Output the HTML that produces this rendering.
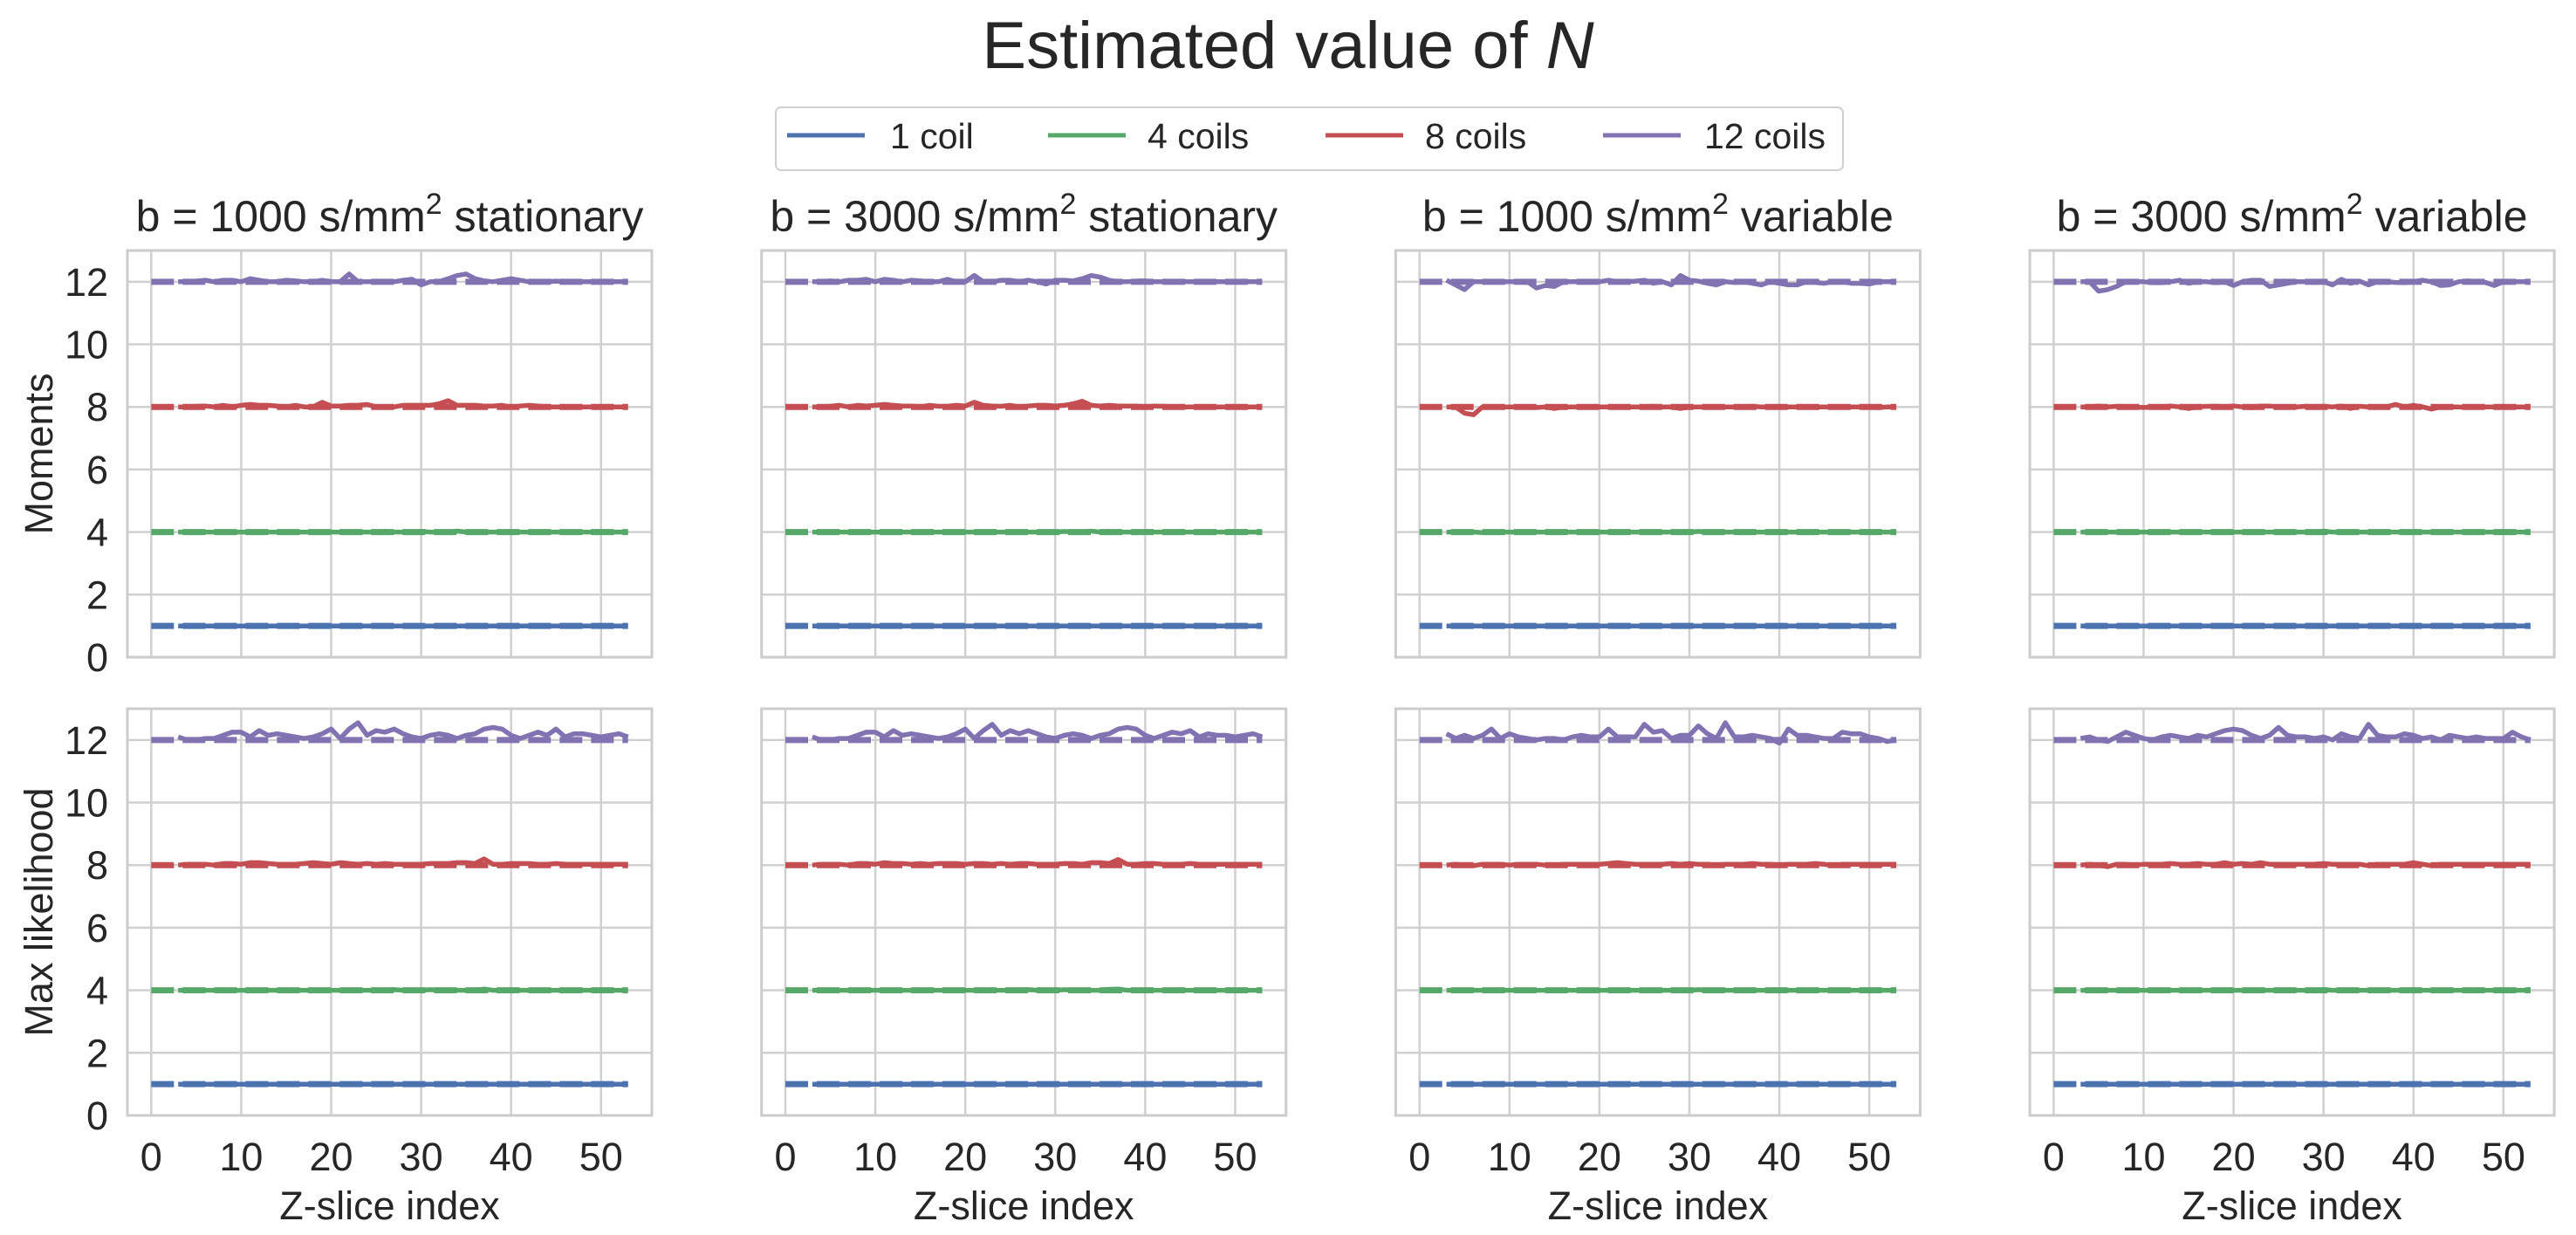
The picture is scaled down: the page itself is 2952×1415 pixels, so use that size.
<!DOCTYPE html>
<html><head><meta charset="utf-8"><style>
html,body{margin:0;padding:0;background:#fff;}
svg{display:block;font-family:"Liberation Sans",Arial,sans-serif;}
</style></head><body>
<svg id="fig" width="2952" height="1415" viewBox="0 0 2952 1415" xmlns="http://www.w3.org/2000/svg">
<text x="1476" y="78" font-size="76" text-anchor="middle" fill="#262626">Estimated value of <tspan font-style="italic">N</tspan></text>
<g>
<rect x="889" y="123" width="1223" height="72" rx="6" fill="#fff" stroke="#d0d0d0" stroke-width="2"/>
<g><line x1="902" y1="155" x2="991" y2="155" stroke="#4c72b0" stroke-width="5"/><text x="1020" y="170" font-size="41" fill="#262626">1 coil</text></g>
<g><line x1="1201" y1="155" x2="1290" y2="155" stroke="#55a868" stroke-width="5"/><text x="1315" y="170" font-size="41" fill="#262626">4 coils</text></g>
<g><line x1="1519" y1="155" x2="1608" y2="155" stroke="#c44e52" stroke-width="5"/><text x="1633" y="170" font-size="41" fill="#262626">8 coils</text></g>
<g><line x1="1837" y1="155" x2="1926" y2="155" stroke="#8172b2" stroke-width="5"/><text x="1953" y="170" font-size="41" fill="#262626">12 coils</text></g>
</g>
<g id="panels"></g>
</svg>
<script>
const xTicks = [0,10,20,30,40,50];
const yTicks = [0,2,4,6,8,10,12];
const coilCounts = [1,4,8,12];
const seriesColors = ["#4c72b0","#55a868","#c44e52","#8172b2"];
const panelTitles = ["1000|stationary","3000|stationary","1000|variable","3000|variable"];
const rowLabels = ["Moments","Max likelihood"];
const xStart = 3;

// Row 1 (Moments)
const m1_blue = [1,1,1,1,1,1,1,1,1,1,1,1,1,1,1,1,1,1,1,1,1,1,1,1.01,1,1,1,1,1,1,1,1,1,1,1,1,1,1,1,1,1,1,1,1,1,1,1,1,1,1,1];
const m1_green = [4,4,4,4,4,4,4,4,4,4,4,4,4,4,4,4,4,4,4,4.02,4,4,4,4.02,4,4,4,4.02,4,4,4,4.03,4,4,4,4,4,4,4,4,4,4,4,4,4,4,4,4,4,4,4];
const m1_red = [8,8,8.02,8.03,8,8.05,8,8.05,8.08,8.05,8.05,8.03,8,8.05,8,8,8.15,8.03,8.03,8.05,8.05,8.08,8,8,8,8.05,8.05,8.05,8.05,8.1,8.2,8.05,8.05,8.05,8.03,8.03,8.05,8,8.03,8.05,8.03,8,8,8,8,8,8,8,8,8,8];
const m1_purple = [12,12,12.02,12.05,12,12.05,12.05,12,12.1,12.05,12,12,12.05,12.03,12,12,12.05,12,12,12.25,12,12,12,12,12,12.05,12.08,11.9,12,12,12.1,12.2,12.25,12.1,12.03,12,12.05,12.1,12.05,12,12,12,12.02,12,12,12,12,12,12,12,12];
const m2_blue = [1,1,1,1,1,1,1,1,1,1,1,1,1,1,1,1,1,1,1,1,1,1,1,1,1,1,1,1,1,1,1,1,1,1,1,1,1,1,1,1,1,1,1,1,1,1,1,1,1,1,1];
const m2_green = [4,4,4,4,4,4,4,4,4,4,4,4,4,4,4,4,4,4,4,4,4,4,4,4.02,4,4,4,4,4.02,4,4,4.03,4,4.02,4,4,4,4,4,4,4,4,4,4,4,4,4,4,4,4,4];
const m2_red = [8,8,8.02,8.05,8,8.05,8.03,8.05,8.08,8.05,8.03,8.03,8,8.05,8.02,8.02,8.05,8.03,8.15,8.05,8.03,8.02,8.05,8,8.03,8.05,8.05,8.03,8.05,8.1,8.18,8.05,8.03,8.05,8.03,8.03,8.03,8,8.03,8.02,8,8,8,8,8,8,8,8,8,8,8];
const m2_purple = [12,12,12.03,12,12.05,12.05,12.08,12,12.08,12.05,12,12.05,12.03,12,12,12.08,12,12,12.2,12,12,12.05,12.05,12,12.05,12,11.93,12.05,12.05,12.03,12.1,12.2,12.15,12.05,12,12,12.02,12.03,12,12,12,12,12,12,12,12,12,12,12,12,12];
const m3_blue = [1,1,1,1,1,1,1,1,1,1,1,1,1,1,1,1,1,1,1,1,1,1,1,1,1,1,1,1,1,1,1,1,1,1,1,1,1,1,1,1,1,1,1,1,1,1,1,1,1,1,1];
const m3_green = [4,4,4,4,3.98,4,4,4,4,4,4,4,4,4,4,4,4,4,4,4,4,4,4,4,4,4,4,4,4.02,4,4,4,4,4,4,4,4,4,4,4,4,4,4,4,4,4,4,4,4,4,4];
const m3_red = [8,8,7.8,7.75,8,8,8,8,8,8,7.98,8,7.95,8,8,8,8,8,8,8,8,8,8,8.02,8,8,7.95,8,8,8,8,8,8,8,8.02,8,8,8,8,8,7.98,8,8,8,8,8,8,8.02,7.98,8,8];
const m3_purple = [12.05,11.9,11.75,12,12,12,12,12,12,12,11.8,11.88,11.85,12,12,12,12,12,12.05,12,12,12.02,12.05,11.95,12,11.9,12.2,12.05,12.02,11.95,11.9,12,11.98,12,11.95,11.9,12,11.95,11.9,11.9,12,11.98,11.95,12,12,11.95,11.95,11.93,12,12,12];
const m4_blue = [1,1,1,1,1,1,1,1,1,1,1,1,1,1,1,1,1,1,1,1,1,1,1,1,1,1,1,1,1,1,1,1,1,1,1,1,1,1,1,1,1,1,1,1,1,1,1,1,1,1,1];
const m4_green = [4,4,4,4,4,4,4,4,4,4,4,4,4,4,4,4,4,4,4,4,4,4,4,4,4,4,4,4.03,4,4,4,4,4,4,4,4,4,4,4,4,4,4,4,4,4,4,4,4,4,4,4];
const m4_red = [8,8,8.03,8,8.02,8,8,7.98,8,8,8.03,8,7.95,8,8.02,8.02,8,8.03,8,7.97,8.03,8.03,8,7.98,8,8.02,8,8.02,8,8.03,7.95,8.02,8,8,8,8.08,8,8.05,8,7.93,8,8,8,7.98,8,8,8,8,8,8,8];
const m4_purple = [12,12,11.7,11.75,11.85,12,12,12,11.97,11.97,12,12.05,11.95,12,12,11.97,12,11.88,12,12.05,12.05,11.85,11.9,11.95,12,12,11.98,12,11.9,12.08,11.95,12.02,11.9,12,12,11.98,11.97,12,12.05,12,11.88,11.9,12,12.03,12,11.98,11.88,12,12,12,12];
// Row 2 (Max likelihood)
const l1_blue = [1,1,1,1,1,1,1,1,1,1,1,1,1,1,1,1,1,1,1,1,1,1,1,1,1,1,1,1,1,1,1,1,1,1,1,1,1,1,1,1,1,1,1,1,1,1,1,1,1,1,1];
const l1_green = [4,4,4,4,4,4,4,4,4,4,4,4,4,4,4,4,4,4,4,4,4,4,4,4,4.02,4,4,4,4.02,4,4,4,4,4,4.04,4,4,4,4,4,4,4,4,4,4,4,4,4,4,4,4];
const l1_red = [8,8.03,8.03,8.03,8,8.05,8.05,8.03,8.08,8.08,8.05,8.03,8.03,8.03,8.05,8.08,8.05,8.03,8.08,8.05,8.03,8.05,8.03,8.05,8.03,8.03,8.03,8.03,8.05,8.05,8.05,8.08,8.08,8.05,8.2,8.03,8.03,8.05,8.05,8.05,8.03,8.03,8.05,8.03,8.03,8.03,8.03,8.03,8.03,8.03,8.03];
const l1_purple = [12.1,12,12,12.05,12.05,12.15,12.25,12.25,12.1,12.3,12.15,12.2,12.15,12.1,12.05,12.1,12.2,12.35,12.05,12.35,12.55,12.15,12.3,12.25,12.35,12.2,12.1,12.05,12.15,12.2,12.15,12.05,12.15,12.2,12.35,12.4,12.35,12.15,12.05,12.15,12.25,12.15,12.35,12.1,12.2,12.2,12.15,12.1,12.15,12.2,12.1];
const l2_blue = [1,1,1,1,1,1,1,1,1,1,1,1,1,1,1,1,1,1,1,1,1,1,1,1,1,1,1,1,1,1,1,1,1,1,1,1,1,1,1,1,1,1,1,1,1,1,1,1,1,1,1];
const l2_green = [4,4,4,4,4,4,4,4,4,4,4,4,4,4,4,4,4,4,4,4,4,4,4,4,4.02,4,4,4,4.02,4,4,4,4,4.03,4.04,4,4,4,4,4,4,4,4,4,4,4,4,4,4,4,4];
const l2_red = [8,8.03,8.03,8.03,8,8.05,8.05,8.03,8.08,8.05,8.05,8.03,8.05,8.03,8.05,8.05,8.05,8.03,8.05,8.05,8.03,8.05,8.03,8.05,8.05,8.03,8.03,8.03,8.05,8.05,8.03,8.08,8.08,8.05,8.18,8.03,8.03,8.05,8.05,8.03,8.03,8.03,8.05,8.03,8.03,8.03,8.03,8.03,8.03,8.03,8.03];
const l2_purple = [12.1,12,12,12.05,12.05,12.15,12.25,12.25,12.1,12.3,12.15,12.2,12.15,12.1,12.05,12.1,12.2,12.35,12.05,12.3,12.5,12.15,12.3,12.2,12.3,12.2,12.1,12.05,12.15,12.2,12.15,12.05,12.15,12.2,12.35,12.4,12.35,12.15,12.05,12.15,12.25,12.2,12.3,12.1,12.2,12.15,12.15,12.1,12.15,12.2,12.1];
const l3_blue = [1,1,1,1,1,1,1,1,1,1,1,1,1,1,1,1,1,1,1,1,1,1,1,1,1,1,1,1,1,1,1,1,1,1,1,1,1,1,1,1,1,1,1,1,1,1,1,1,1,1,1];
const l3_green = [4,4,4,4,4,4,4,4,4,4,4,4,4,4,4,4,4,4,4,4,4,4,4,4,4,4,4,4,4.02,4,4,4,4,4,4,4,4,4,4,4,4,4,4,4,4,4,4,4,4,4,4];
const l3_red = [8,8.03,8,7.98,8.03,8.03,8.03,8,8.03,8.03,8.03,8,8,8.03,8.03,8.03,8.03,8.03,8.05,8.08,8.05,8.03,8.03,8.03,8.03,8.05,8.03,8.05,8.03,8.03,8,8.03,8.03,8.03,8.05,8.03,8.03,8,8.03,8.03,8.03,8.05,8.03,7.98,8.03,8.03,8.03,8.03,8.03,8.03,8.03];
const l3_purple = [12.2,12.05,12.15,12.05,12.15,12.35,12.05,12.2,12.1,12.05,12,12.05,12.05,12,12.1,12.15,12.1,12.1,12.35,12.1,12.1,12.1,12.5,12.25,12.3,12.05,12.15,12.15,12.45,12.2,12.05,12.55,12.1,12.1,12.15,12.1,12.05,11.9,12.35,12.15,12.15,12.1,12.05,12.05,12.25,12.2,12.2,12.1,12.05,11.95,12];
const l4_blue = [1,1,1,1,1,1,1,1,1,1,1,1,1,1,1,1,1,1,1,1,1,1,1,1,1,1,1,1,1,1,1,1,1,1,1,1,1,1,1,1,1,1,1,1,1,1,1,1,1,1,1];
const l4_green = [4,4,4,4,4,4,4,4,4,4,4,4,4,4,4,4,4,4,4,4,4,4,4,4,4,4,4,4.02,4,4,4,4,4,4,4,4,4,4,4,4,4,4,4,4,4,4,4,4,4,4,4];
const l4_red = [8,8.03,8,7.95,8.03,8.03,8,8.03,8.03,8.03,8.05,8.03,8.03,8.05,8.03,8.03,8.08,8.03,8.05,8.03,8.08,8.03,8.03,8.03,8.03,8.03,8.03,8.05,8.03,8.03,8.03,8.03,7.98,8.03,8.03,8.03,8.03,8.08,8.03,7.98,8.03,8.03,8.03,8.03,8.03,8.03,8.03,8.03,8.03,8.03,8.03];
const l4_purple = [12.05,12.1,12,11.95,12.1,12.25,12.15,12.05,12,12.1,12.15,12.1,12.05,12.15,12.1,12.2,12.3,12.35,12.3,12.15,12.05,12.15,12.4,12.15,12.1,12.1,12.05,12.1,12,12.2,12.1,12.05,12.5,12.15,12.1,12.1,12.2,12.15,12.05,12.1,12,12.15,12.1,12.05,12.1,12.05,12.05,12.05,12.25,12.1,12];

const panelData = [
  [[m1_blue,m1_green,m1_red,m1_purple],[m2_blue,m2_green,m2_red,m2_purple],[m3_blue,m3_green,m3_red,m3_purple],[m4_blue,m4_green,m4_red,m4_purple]],
  [[l1_blue,l1_green,l1_red,l1_purple],[l2_blue,l2_green,l2_red,l2_purple],[l3_blue,l3_green,l3_red,l3_purple],[l4_blue,l4_green,l4_red,l4_purple]]
];

const NS = "http://www.w3.org/2000/svg";
const root = document.getElementById("panels");
const PW = 601, PH = 466, XMIN = -2.65, XMAX = 55.65, YMAX = 13;
const panelLeft = c => 146 + c * 726.7;
const panelTop = r => r === 0 ? 287 : 812;
function mk(tag, attrs, parent) {
  const e = document.createElementNS(NS, tag);
  for (const k in attrs) e.setAttribute(k, attrs[k]);
  parent.appendChild(e);
  return e;
}
for (let r = 0; r < 2; r++) {
  for (let c = 0; c < 4; c++) {
    const L = panelLeft(c), T = panelTop(r);
    const xs = v => L + (v - XMIN) / (XMAX - XMIN) * PW;
    const ys = v => T + PH - v / YMAX * PH;
    const g = mk("g", {}, root);
    
    
    mk("rect", {x: L, y: T, width: PW, height: PH, fill: "#fff"}, g);
    xTicks.forEach(t => {
      const gl = mk("line", {x1: xs(t), x2: xs(t), y1: T, y2: T + PH, stroke: "#d0d0d0", "stroke-width": 2.5}, g);
      
      
      if (r === 1) {
        const tl = mk("text", {x: xs(t), y: T + PH + 63, "font-size": 45, "text-anchor": "middle", fill: "#262626"}, g);
        tl.textContent = t;
        
        
      }
    });
    yTicks.forEach(t => {
      const gl = mk("line", {x1: L, x2: L + PW, y1: ys(t), y2: ys(t), stroke: "#d0d0d0", "stroke-width": 2.5}, g);
      
      
      if (c === 0) {
        const tl = mk("text", {x: L - 22, y: ys(t) + 16, "font-size": 45, "text-anchor": "end", fill: "#262626"}, g);
        tl.textContent = t;
        
        
      }
    });
    const fr = mk("rect", {x: L, y: T, width: PW, height: PH, fill: "none", stroke: "#cccccc", "stroke-width": 3}, g);
    
    
    panelData[r][c].forEach((vals, si) => {
      const ref = mk("line", {x1: xs(0), x2: xs(53), y1: ys(coilCounts[si]), y2: ys(coilCounts[si]), stroke: seriesColors[si], "stroke-width": 7, "stroke-dasharray": "26 10"}, g);
      
      
      const pts = vals.map((v, i) => xs(xStart + i).toFixed(1) + "," + ys(v).toFixed(1)).join(" ");
      const pl = mk("polyline", {points: pts, fill: "none", stroke: seriesColors[si], "stroke-width": 5.5, "stroke-linejoin": "round"}, g);
      
      
    });
    if (r === 0) {
      const parts = panelTitles[c].split("|");
      const tt = mk("text", {x: L + PW / 2, y: T - 22, "font-size": 50, "text-anchor": "middle", fill: "#262626"}, g);
      
      
      const a = mk("tspan", {}, tt); a.textContent = "b = " + parts[0] + " s/mm";
      const s = mk("tspan", {"font-size": 34, dy: -20}, tt); s.textContent = "2";
      const b = mk("tspan", {dy: 20}, tt); b.textContent = " " + parts[1];
    } else {
      const xl = mk("text", {x: L + PW / 2, y: 1397, "font-size": 45, "text-anchor": "middle", fill: "#262626"}, g);
      xl.textContent = "Z-slice index";
      
      
    }
    if (c === 0) {
      const cy = T + PH / 2;
      const yl = mk("text", {x: 60, y: cy, "font-size": 45, "text-anchor": "middle", fill: "#262626", transform: "rotate(-90 60 " + cy + ")"}, g);
      yl.textContent = rowLabels[r];
      
      
    }
  }
}
</script>
</body></html>
